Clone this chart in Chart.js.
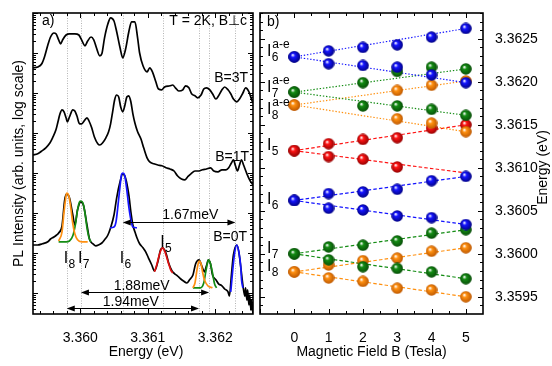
<!DOCTYPE html>
<html>
<head>
<meta charset="UTF-8">
<title>PL spectra and Zeeman splitting</title>
<script src="https://cdn.jsdelivr.net/npm/chart.js@4"></script>
<style>
  body { margin: 0; background: #fff; }
  #wrap { position: relative; width: 552px; height: 366px; }
  #wrap canvas { position: absolute; left: 0; top: 0; }
</style>
</head>
<body>
<div id="wrap">
  <canvas id="spectra" width="552" height="366"></canvas>
  <canvas id="zeeman" width="552" height="366"></canvas>
</div>
<script>
// ---- panel a: PL spectra, energy (eV) vs log10 intensity (arb. decades) ----
const energy3T = [3.35930,3.35937,3.35943,3.35947,3.35952,3.35956,3.35961,3.35964,3.35968,3.35971,3.35974,3.35979,3.35984,3.35992,3.35998,3.36002,3.36007,3.36011,3.36016,3.36020,3.36024,3.36029,3.36032,3.36036,3.36041,3.36045,3.36050,3.36054,3.36059,3.36063,3.36067,3.36072,3.36076,3.36081,3.36085,3.36088,3.36093,3.36099,3.36103,3.36107,3.36112,3.36116,3.36121,3.36125,3.36133,3.36137,3.36141,3.36146,3.36152,3.36156,3.36161,3.36165,3.36170,3.36174,3.36179,3.36183,3.36187,3.36192,3.36196,3.36201,3.36205,3.36210,3.36214,3.36219,3.36223,3.36227,3.36232,3.36236,3.36241,3.36245,3.36250,3.36254,3.36256];
const pl3T = [5.63,5.65,5.73,5.90,6.20,6.40,6.50,6.48,6.33,6.23,6.33,6.45,6.48,6.48,6.45,6.33,6.18,6.30,6.40,6.33,6.13,5.93,5.98,6.38,6.73,6.88,6.80,6.53,6.13,5.88,6.08,6.53,6.78,6.78,6.38,6.00,5.68,5.53,5.63,5.53,5.28,5.10,5.08,5.15,5.18,5.20,5.13,5.05,5.08,5.18,5.13,4.98,4.93,4.88,4.95,5.10,5.13,5.08,4.98,4.85,4.93,5.08,5.15,5.08,4.98,4.85,4.78,4.85,5.00,5.13,5.03,4.83,4.75];

const energy1T = [3.35930,3.35937,3.35943,3.35949,3.35955,3.35959,3.35964,3.35967,3.35970,3.35973,3.35976,3.35979,3.35981,3.35984,3.35989,3.35992,3.35995,3.35999,3.36002,3.36007,3.36010,3.36013,3.36017,3.36021,3.36026,3.36029,3.36033,3.36038,3.36042,3.36045,3.36048,3.36051,3.36054,3.36057,3.36060,3.36063,3.36066,3.36069,3.36072,3.36075,3.36078,3.36081,3.36085,3.36090,3.36094,3.36099,3.36103,3.36109,3.36115,3.36121,3.36127,3.36133,3.36139,3.36144,3.36150,3.36155,3.36159,3.36164,3.36170,3.36176,3.36181,3.36187,3.36193,3.36198,3.36204,3.36210,3.36216,3.36220,3.36224,3.36227,3.36230,3.36233,3.36236,3.36239,3.36242,3.36247,3.36251,3.36256];
const pl1T = [3.45,3.48,3.55,3.63,3.75,3.88,4.08,4.28,4.48,4.58,4.53,4.38,4.28,4.40,4.58,4.55,4.43,4.23,4.23,4.33,4.38,4.30,4.13,3.90,3.73,3.70,3.75,3.88,4.03,4.23,4.53,4.83,4.95,4.90,4.65,4.53,4.68,4.90,4.93,4.78,4.48,4.25,4.03,3.85,3.63,3.38,3.28,3.23,3.20,3.18,3.13,3.10,3.05,2.93,2.85,2.83,2.90,2.98,3.05,3.05,3.08,3.10,3.13,3.05,3.03,3.08,3.08,3.13,3.25,3.33,3.18,3.05,3.20,3.33,3.20,2.98,2.83,2.70];

const energy0T = [3.35930,3.35937,3.35944,3.35952,3.35956,3.35961,3.35965,3.35968,3.35973,3.35977,3.35980,3.35984,3.35989,3.35992,3.35996,3.36001,3.36005,3.36010,3.36014,3.36019,3.36023,3.36027,3.36032,3.36036,3.36041,3.36045,3.36050,3.36054,3.36059,3.36063,3.36067,3.36072,3.36075,3.36078,3.36081,3.36084,3.36088,3.36093,3.36097,3.36101,3.36106,3.36110,3.36115,3.36119,3.36122,3.36127,3.36131,3.36136,3.36140,3.36144,3.36149,3.36153,3.36158,3.36162,3.36167,3.36171,3.36176,3.36180,3.36184,3.36187,3.36190,3.36193,3.36196,3.36201,3.36205,3.36210,3.36214,3.36219,3.36221,3.36224,3.36227,3.36232,3.36235,3.36238,3.36241,3.36244,3.36245,3.36247,3.36248,3.36250,3.36251,3.36253,3.36254,3.36256];
const pl0T = [1.20,1.20,1.23,1.28,1.35,1.40,1.45,1.50,1.68,2.33,2.48,2.38,1.95,1.70,2.08,2.28,2.18,1.70,1.33,1.23,1.18,1.20,1.25,1.33,1.45,1.63,1.95,2.38,2.78,2.98,2.88,2.45,2.03,1.70,1.53,1.38,1.23,1.13,1.03,0.88,0.70,0.55,0.78,1.08,1.13,1.00,0.75,0.55,0.48,0.43,0.35,0.30,0.25,0.33,0.45,0.73,0.83,0.68,0.53,0.68,0.83,0.73,0.45,0.33,0.23,0.18,0.10,0.03,-0.08,0.45,0.95,1.20,1.03,0.63,0.20,-0.08,0.13,-0.18,0.08,-0.30,-0.05,-0.43,-0.18,-0.53];

// Gaussian fits drawn over the B=0T spectrum
const fitI8E = [3.35968,3.35973,3.35976,3.35979,3.35980,3.35983,3.35986,3.35989,3.35992,3.35996,3.36002,3.36011];
const fitI8  = [1.30,1.53,2.03,2.43,2.50,2.43,2.13,1.73,1.48,1.33,1.28,1.28];
const fitI7E = [3.35968,3.35979,3.35984,3.35989,3.35993,3.35996,3.35999,3.36001,3.36004,3.36007,3.36010,3.36013,3.36016];
const fitI7  = [1.28,1.28,1.30,1.43,1.73,2.08,2.28,2.30,2.25,2.00,1.63,1.38,1.28];
const fitI6E = [3.36044,3.36050,3.36053,3.36056,3.36059,3.36061,3.36063,3.36066,3.36069,3.36072,3.36075,3.36078,3.36084];
const fitI6  = [1.63,1.65,1.78,2.20,2.68,2.95,3.00,2.93,2.58,2.15,1.83,1.65,1.63];
const fitI5E = [3.36110,3.36113,3.36116,3.36119,3.36122,3.36125,3.36128,3.36131,3.36134,3.36137];
const fitI5  = [0.53,0.68,0.88,1.05,1.13,1.05,0.90,0.73,0.58,0.50];
const fitHi8E = [3.36167,3.36170,3.36173,3.36176,3.36179,3.36181,3.36184,3.36189,3.36196];
const fitHi8  = [0.13,0.25,0.58,0.80,0.73,0.55,0.33,0.18,0.13];
const fitHi7E = [3.36167,3.36178,3.36183,3.36186,3.36189,3.36190,3.36193,3.36196,3.36199,3.36202];
const fitHi7  = [0.13,0.13,0.25,0.53,0.78,0.83,0.73,0.50,0.23,0.13];
const fitHi6E = [3.36223,3.36224,3.36226,3.36229,3.36232,3.36235,3.36238,3.36239,3.36241];
const fitHi6  = [0.03,0.20,0.58,1.03,1.20,1.03,0.63,0.33,0.13];

// guide lines and splitting arrows
const guideE = [3.35980, 3.36001, 3.36063, 3.36123, 3.36176, 3.36191, 3.36230];
const arrowFrom = [3.36063, 3.36001, 3.35980];
const arrowTo = [3.36230, 3.36191, 3.36176];
const arrowLevel = [1.78, 0.03, -0.375];
const arrowText = ['1.67meV', '1.88meV', '1.94meV'];
const arrowTextE = [3.36163, 3.36091, 3.36075];

// ---- panel b: peak energies (eV) vs magnetic field (T) ----
const fieldB = [0, 1, 2, 3, 4, 5];
const i6aUp  = [3.36229, 3.36236, 3.36240, 3.36243, 3.36252, 3.36262];
const i6aLow = [3.36229, 3.36221, 3.36219, 3.36217, 3.36208, 3.36199];
const i7aUp  = [3.36188, null, 3.36199, 3.36212, 3.36217, 3.36215];
const i7aLow = [3.36188, null, 3.36172, 3.36172, 3.36168, 3.36161];
const i8aUp  = [3.36173, null, null, 3.36190, 3.36196, 3.36201];
const i8aLow = [3.36173, null, null, 3.36157, 3.36152, 3.36142];
const i5Up   = [3.36120, 3.36128, 3.36133, 3.36135, 3.36146, 3.36150];
const i5Low  = [3.36120, 3.36113, 3.36110, 3.36101, null, null];
const i6Up   = [3.36062, 3.36070, 3.36072, 3.36075, 3.36085, 3.36090];
const i6Low  = [3.36062, 3.36053, 3.36051, 3.36044, 3.36042, 3.36034];
const i7Up   = [3.36000, 3.36008, 3.36010, 3.36015, 3.36024, 3.36028];
const i7Low  = [3.36000, 3.35993, 3.35985, 3.35983, 3.35979, 3.35971];
const i8Up   = [3.35979, 3.35987, 3.35992, 3.35995, 3.36003, 3.36007];
const i8Low  = [3.35979, 3.35972, 3.35968, 3.35960, 3.35958, 3.35950];
// linear fits: energy reached at B = 5 T (they start at the B = 0 point)
const fitEndB5 = [3.36262, 3.36199, 3.36215, 3.36161, 3.36201, 3.36142, 3.36150, 3.36094, 3.36090, 3.36034, 3.36028, 3.35971, 3.36007, 3.35950];
const energyTicks = [3.3595, 3.3600, 3.3605, 3.3610, 3.3615, 3.3620, 3.3625];

const FONT = 'Arial, "Liberation Sans", Helvetica, sans-serif';
const BLUE = '#1414ff', GREEN = '#148c14', ORANGE = '#ff9010', RED = '#ff1414';

function xy(xs, ys) {
  return xs.map((x, i) => ({ x: x, y: ys[i] })).filter(p => p.y !== null);
}

// shaded ball used as point marker
function ball(color, dark) {
  const c = document.createElement('canvas');
  c.width = 12; c.height = 12;
  const g = c.getContext('2d');
  const grad = g.createRadialGradient(4.3, 4, 0.3, 6, 6, 6.2);
  grad.addColorStop(0, '#ffffff');
  grad.addColorStop(0.3, color);
  grad.addColorStop(1, dark);
  g.fillStyle = grad;
  g.beginPath(); g.arc(6, 6, 5.8, 0, Math.PI * 2); g.fill();
  return c;
}

function ticksAndFrame(chart, xt, yt) {
  const { ctx, chartArea: a, scales } = chart;
  ctx.save();
  ctx.strokeStyle = '#000';
  ctx.lineWidth = 1;
  ctx.beginPath();
  xt.forEach(t => {
    const px = Math.round(scales.x.getPixelForValue(t.v)) + 0.5;
    if (px < a.left || px > a.right) return;
    const L = t.major ? 5 : 3;
    ctx.moveTo(px, a.bottom); ctx.lineTo(px, a.bottom - L);
    ctx.moveTo(px, a.top); ctx.lineTo(px, a.top + L);
  });
  yt.forEach(t => {
    const py = Math.round(scales.y.getPixelForValue(t.v)) + 0.5;
    if (py < a.top || py > a.bottom) return;
    const L = t.major ? 5 : 3;
    ctx.moveTo(a.left, py); ctx.lineTo(a.left + L, py);
    ctx.moveTo(a.right, py); ctx.lineTo(a.right - L, py);
  });
  ctx.stroke();
  ctx.lineWidth = 1.6;
  ctx.strokeRect(a.left, a.top, a.right - a.left, a.bottom - a.top);
  ctx.restore();
}

function text(ctx, s, x, y, size, align) {
  ctx.font = size + 'px ' + FONT;
  ctx.textAlign = align || 'left';
  ctx.textBaseline = 'alphabetic';
  ctx.fillStyle = '#000';
  ctx.fillText(s, x, y);
}

function peakLabel(ctx, x, y, sub, sup) {
  text(ctx, 'I', x, y, 16);
  const w = ctx.measureText('I').width;
  text(ctx, sub, x + w + 0.3, y + 5, 12);
  if (sup) text(ctx, sup, x + w + 0.8, y - 8, 12);
}

function vtext(ctx, s, x, y) {
  ctx.save();
  ctx.translate(x, y);
  ctx.rotate(-Math.PI / 2);
  ctx.font = '14px ' + FONT;
  ctx.textAlign = 'center';
  ctx.textBaseline = 'middle';
  ctx.fillStyle = '#000';
  ctx.fillText(s, 0, 0);
  ctx.restore();
}

function arrowHead(ctx, x, y, dir) {
  ctx.beginPath();
  ctx.moveTo(x, y);
  ctx.lineTo(x - dir * 8, y - 3);
  ctx.lineTo(x - dir * 8, y + 3);
  ctx.closePath();
  ctx.fill();
}

// tick positions (both panels)
const spectraXT = [], spectraYT = [], zeemanXT = [], zeemanYT = [];
for (let k = 0; k <= 16; k++) {
  const v = 3.3594 + k * 0.0002;
  spectraXT.push({ v: v, major: Math.abs(v * 1000 - Math.round(v * 1000)) < 1e-6 });
}
for (let d = -1; d <= 7; d++) {
  for (let m = 1; m <= 9; m++) spectraYT.push({ v: d + Math.log10(m), major: m === 1 });
}
for (let k = -2; k <= 11; k++) zeemanXT.push({ v: k / 2, major: k % 2 === 0 });
for (let k = 0; k <= 35; k++) {
  const v = 3.3593 + k * 0.0001;
  zeemanYT.push({ v: v, major: Math.abs(v * 2000 - Math.round(v * 2000)) < 1e-6 });
}

const spectraDecor = {
  id: 'spectraDecor',
  beforeDatasetsDraw(chart) {
    const { ctx, chartArea: a, scales } = chart;
    ctx.save();
    ctx.strokeStyle = '#b4b4b4';
    ctx.lineWidth = 1;
    ctx.setLineDash([1, 1.5]);
    guideE.forEach(e => {
      const px = Math.round(scales.x.getPixelForValue(e)) + 0.5;
      ctx.beginPath(); ctx.moveTo(px, a.top); ctx.lineTo(px, a.bottom); ctx.stroke();
    });
    ctx.restore();
  },
  afterDatasetsDraw(chart) {
    const { ctx, chartArea: a, scales } = chart;
    ctx.save();
    ctx.strokeStyle = '#000';
    ctx.fillStyle = '#000';
    ctx.lineWidth = 1;
    arrowFrom.forEach((e, i) => {
      const x1 = scales.x.getPixelForValue(e);
      const x2 = scales.x.getPixelForValue(arrowTo[i]);
      const y = Math.round(scales.y.getPixelForValue(arrowLevel[i])) + 0.5;
      ctx.beginPath(); ctx.moveTo(x1 + 4, y); ctx.lineTo(x2 - 4, y); ctx.stroke();
      arrowHead(ctx, x1, y, -1);
      arrowHead(ctx, x2, y, 1);
      text(ctx, arrowText[i], scales.x.getPixelForValue(arrowTextE[i]), y - (i === 0 ? 4 : 2.5), 14, 'center');
    });
    const base = scales.y.getPixelForValue(0.75);
    peakLabel(ctx, scales.x.getPixelForValue(guideE[0]) - 3, base, '8');
    peakLabel(ctx, scales.x.getPixelForValue(guideE[1]) - 3, base, '7');
    peakLabel(ctx, scales.x.getPixelForValue(guideE[2]) - 3, base, '6');
    peakLabel(ctx, scales.x.getPixelForValue(guideE[3]) - 3, base - 16, '5');
    text(ctx, 'a)', a.left + 9, a.top + 12, 14);
    text(ctx, 'T = 2K, B\u22A5c', a.right - 6, a.top + 11.5, 14, 'right');
    text(ctx, 'B=3T', a.right - 5, 81.5, 14, 'right');
    text(ctx, 'B=1T', a.right - 4, 160.5, 14, 'right');
    text(ctx, 'B=0T', a.right - 6, 241, 14, 'right');
    ctx.restore();
  },
  afterDraw(chart) {
    ticksAndFrame(chart, spectraXT, spectraYT);
    const { ctx, chartArea: a } = chart;
    vtext(ctx, 'PL Intensity (arb. units, log scale)', 19, (a.top + a.bottom) / 2);
    text(ctx, 'Energy (eV)', (a.left + a.right) / 2 + 3, 356, 14, 'center');
  }
};

const zeemanDecor = {
  id: 'zeemanDecor',
  afterDatasetsDraw(chart) {
    const { ctx, chartArea: a, scales } = chart;
    const lx = a.left + 7;
    const yAt = e => scales.y.getPixelForValue(e);
    peakLabel(ctx, lx, yAt(i6aUp[0]) - 1, '6', 'a-e');
    peakLabel(ctx, lx, yAt(i7aUp[0]), '7', 'a-e');
    peakLabel(ctx, lx, yAt(i8aUp[0]) + 9, '8', 'a-e');
    peakLabel(ctx, lx, yAt(i5Up[0]) - 1, '5');
    peakLabel(ctx, lx, yAt(i6Up[0]) + 4, '6');
    peakLabel(ctx, lx, yAt(i7Up[0]) - 1, '7');
    peakLabel(ctx, lx, yAt(i8Up[0]) - 1, '8');
    text(ctx, 'b)', a.left + 7, a.top + 13, 14);
  },
  afterDraw(chart) {
    ticksAndFrame(chart, zeemanXT, zeemanYT);
    const { ctx, chartArea: a } = chart;
    vtext(ctx, 'Energy (eV)', 543, (a.top + a.bottom) / 2 + 4);
    text(ctx, 'Magnetic Field B (Tesla)', (a.left + a.right) / 2, 356, 14, 'center');
  }
};

const tickFont = { family: FONT, size: 14 };

// ---- chart a ----
function trace(xs, ys, color, order) {
  return {
    data: xy(xs, ys), borderColor: color, borderWidth: 1.7, pointRadius: 0,
    cubicInterpolationMode: 'monotone', order: order
  };
}

new Chart(document.getElementById('spectra'), {
  type: 'line',
  data: {
    datasets: [
      trace(fitI8E, fitI8, ORANGE, 0),
      trace(fitI7E, fitI7, GREEN, 0),
      trace(fitI6E, fitI6, BLUE, 0),
      trace(fitI5E, fitI5, '#e01010', 0),
      trace(fitHi8E, fitHi8, ORANGE, 0),
      trace(fitHi7E, fitHi7, GREEN, 0),
      trace(fitHi6E, fitHi6, BLUE, 0),
      trace(energy3T, pl3T, '#000', 1),
      trace(energy1T, pl1T, '#000', 1),
      trace(energy0T, pl0T, '#000', 1)
    ]
  },
  options: {
    responsive: false,
    animation: false,
    events: [],
    layout: { padding: { left: 33, top: 13, right: 299, bottom: 0 } },
    plugins: { legend: { display: false }, tooltip: { enabled: false } },
    scales: {
      x: {
        type: 'linear', min: 3.3593, max: 3.36256,
        grid: { display: false }, border: { display: false },
        ticks: {
          stepSize: 0.001, includeBounds: false, autoSkip: false, maxRotation: 0,
          padding: 8, color: '#000', font: tickFont,
          callback: v => v.toFixed(3)
        },
        afterFit: s => { s.height = 52; }
      },
      y: { type: 'linear', min: -0.525, max: 7.0, display: false }
    }
  },
  plugins: [spectraDecor]
});

// ---- chart b ----
const branches = [
  [i6aUp, BLUE, true], [i6aLow, BLUE, true],
  [i7aUp, GREEN, true], [i7aLow, GREEN, true],
  [i8aUp, ORANGE, true], [i8aLow, ORANGE, true],
  [i5Up, RED, false], [i5Low, RED, false],
  [i6Up, BLUE, false], [i6Low, BLUE, false],
  [i7Up, GREEN, false], [i7Low, GREEN, false],
  [i8Up, ORANGE, false], [i8Low, ORANGE, false]
];
const balls = {};
balls[BLUE] = ball(BLUE, '#00007a');
balls[GREEN] = ball(GREEN, '#064806');
balls[ORANGE] = ball(ORANGE, '#b85400');
balls[RED] = ball(RED, '#8a0000');

const zeemanSets = [];
branches.forEach((b, i) => {
  const [vals, color, dotted] = b;
  zeemanSets.push({
    data: [{ x: fieldB[0], y: vals[0] }, { x: fieldB[5], y: fitEndB5[i] }],
    borderColor: color, borderWidth: 1.2, borderDash: dotted ? [1.4, 1.8] : [3.5, 2.2],
    pointRadius: 0, order: 5
  });
});
branches.forEach(b => {
  const [vals, color] = b;
  zeemanSets.push({
    data: xy(fieldB, vals), showLine: false,
    pointStyle: balls[color], pointRadius: 6, order: 1
  });
});

new Chart(document.getElementById('zeeman'), {
  type: 'line',
  data: { datasets: zeemanSets },
  options: {
    responsive: false,
    animation: false,
    events: [],
    layout: { padding: { left: 260, top: 13, right: 0, bottom: 0 } },
    plugins: { legend: { display: false }, tooltip: { enabled: false } },
    scales: {
      x: {
        type: 'linear', min: -1, max: 5.5,
        grid: { display: false }, border: { display: false },
        ticks: {
          stepSize: 1, includeBounds: false, autoSkip: false, maxRotation: 0,
          padding: 8, color: '#000', font: tickFont,
          callback: v => (v < 0 ? '' : String(v))
        },
        afterFit: s => { s.height = 52; }
      },
      y: {
        type: 'linear', position: 'right', min: 3.3593, max: 3.3628,
        grid: { display: false }, border: { display: false },
        afterBuildTicks: s => { s.ticks = energyTicks.map(v => ({ value: v })); },
        ticks: {
          autoSkip: false, padding: 4, color: '#000', font: tickFont,
          callback: v => v.toFixed(4)
        },
        afterFit: s => { s.width = 69; }
      }
    }
  },
  plugins: [zeemanDecor]
});
</script>
</body>
</html>
